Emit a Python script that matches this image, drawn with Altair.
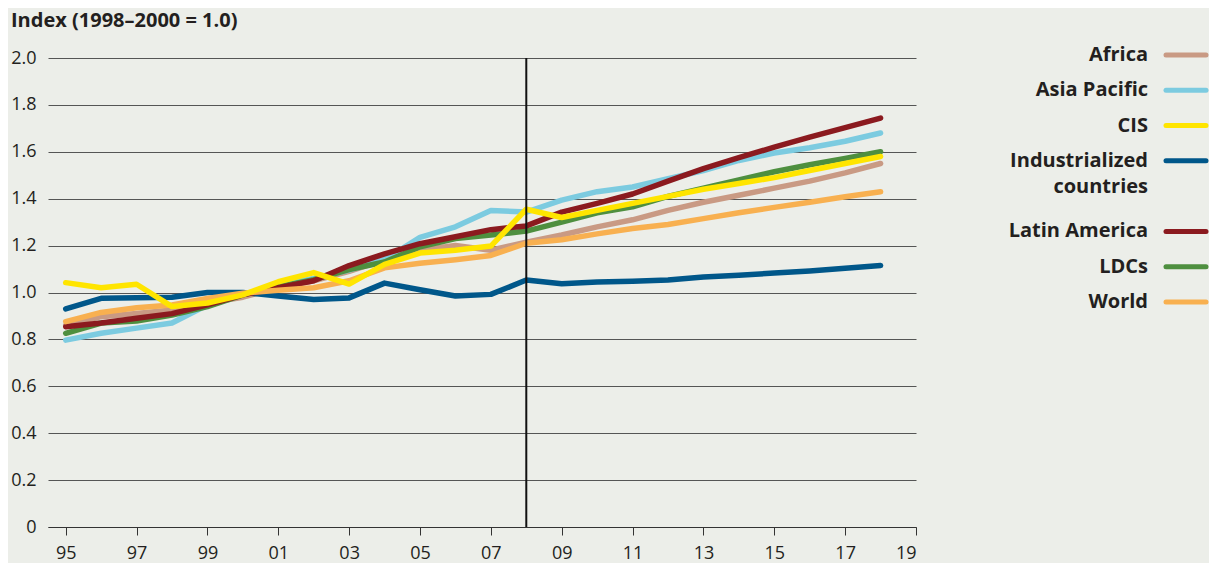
import altair as alt
import pandas as pd

years = list(range(1995, 2019))

africa = [0.86, 0.897, 0.91, 0.925, 0.955, 0.98, 1.02, 1.05, 1.09, 1.14, 1.18, 1.20,
          1.18, 1.215, 1.245, 1.28, 1.31, 1.35, 1.385, 1.415, 1.445, 1.475, 1.51, 1.55]
asia_pacific = [0.797, 0.826, 0.848, 0.87, 0.947, 0.99, 1.03, 1.06, 1.096, 1.14, 1.235, 1.28,
                1.35, 1.343, 1.394, 1.43, 1.45, 1.485, 1.52, 1.563, 1.595, 1.617, 1.645, 1.68]
cis = [1.042, 1.02, 1.035, 0.94, 0.955, 0.99, 1.046, 1.085, 1.036, 1.12, 1.168, 1.18,
       1.198, 1.355, 1.32, 1.35, 1.38, 1.41, 1.44, 1.465, 1.49, 1.52, 1.55, 1.58]
industrialized = [0.93, 0.975, 0.978, 0.98, 1.0, 1.0, 0.985, 0.97, 0.977, 1.04, 1.012, 0.985,
                  0.992, 1.053, 1.037, 1.045, 1.048, 1.053, 1.066, 1.074, 1.083, 1.092, 1.103, 1.115]
latin_america = [0.854, 0.87, 0.89, 0.91, 0.947, 0.99, 1.02, 1.05, 1.115, 1.165, 1.208, 1.238,
                 1.268, 1.284, 1.343, 1.38, 1.42, 1.475, 1.528, 1.575, 1.62, 1.663, 1.703, 1.744]
ldcs = [0.826, 0.87, 0.878, 0.904, 0.94, 0.99, 1.025, 1.055, 1.098, 1.13, 1.195, 1.23,
        1.245, 1.262, 1.30, 1.34, 1.365, 1.41, 1.445, 1.48, 1.515, 1.545, 1.572, 1.60]
world = [0.876, 0.915, 0.935, 0.947, 0.975, 0.997, 1.01, 1.02, 1.05, 1.105, 1.125, 1.14,
         1.158, 1.21, 1.225, 1.25, 1.273, 1.29, 1.315, 1.34, 1.363, 1.385, 1.408, 1.43]

series_names = ["Africa", "Asia Pacific", "CIS", "Industrialized countries",
                "Latin America", "LDCs", "World"]
legend_labels = ["Africa", "Asia Pacific", "CIS", "Industrialized\ncountries",
                 "Latin America", "LDCs", "World"]
series_colors = ["#c99a84", "#7ccbe0", "#ffe500", "#00578a", "#8b1a1f", "#4e8f3f", "#f8b050"]
series_values = [africa, asia_pacific, cis, industrialized, latin_america, ldcs, world]

draw_order = ["Africa", "Asia Pacific", "Industrialized countries", "LDCs",
              "Latin America", "World", "CIS"]

x_ticks = list(range(1995, 2020, 2))
y_ticks = [0, 0.2, 0.4, 0.6, 0.8, 1.0, 1.2, 1.4, 1.6, 1.8, 2.0]
forecast_start = [2008]

rows = []
for name, vals in zip(series_names, series_values):
    for yr, v in zip(years, vals):
        rows.append({"series": name, "year": yr, "value": v})
df = pd.DataFrame(rows)

legend_df = pd.DataFrame({"series": series_names, "label": legend_labels})
legend_domain = ["Africa", "Asia Pacific", "CIS", "Industrialized countries", "_gap",
                 "Latin America", "LDCs", "World"]

FONT = "Open Sans"
TEXT = "#231f20"
BG = "#eceee9"

color_scale = alt.Scale(domain=series_names, range=series_colors)

x_enc = alt.X(
    "year:Q",
    scale=alt.Scale(domain=[1994.5, 2019], nice=False, zero=False),
    axis=alt.Axis(values=x_ticks, labelExpr="slice(toString(datum.value), 2)",
                  grid=False, tickSize=8, tickColor="#333", domainColor="#333",
                  domainWidth=1.2, tickWidth=1, labelFontSize=18, labelPadding=9,
                  labelFont=FONT, labelColor=TEXT, title=None),
)
y_enc = alt.Y(
    "value:Q",
    scale=alt.Scale(domain=[0, 2], nice=False),
    axis=alt.Axis(values=y_ticks,
                  labelExpr="datum.value == 0 ? '0' : format(datum.value, '.1f')",
                  grid=True, gridColor="#555", gridWidth=1.2, ticks=False, domain=False,
                  labelPadding=12, labelFontSize=18, labelFont=FONT, labelColor=TEXT,
                  title=None),
)

line_layers = []
for name in draw_order:
    line_layers.append(
        alt.Chart(df).transform_filter(alt.datum.series == name)
        .mark_line(strokeWidth=5.5, strokeCap="round", strokeJoin="round")
        .encode(x=x_enc, y=y_enc,
                color=alt.Color("series:N", scale=color_scale, legend=None))
    )

vrule = alt.Chart(pd.DataFrame({"year": forecast_start})).mark_rule(
    color="#111", strokeWidth=2
).encode(x=alt.X("year:Q"))

main = alt.layer(*line_layers, vrule)

legend_y = alt.Y("series:N",
                 scale=alt.Scale(type="point", domain=legend_domain, range=[-3, 244], padding=0),
                 axis=None)

legend_text = alt.Chart(legend_df).mark_text(
    align="right", baseline="middle", fontSize=20, fontWeight="bold", font=FONT,
    color=TEXT, lineBreak="\n", lineHeight=26
).encode(x=alt.value(1100), y=legend_y, text="label:N")

legend_rule = alt.Chart(legend_df).mark_rule(strokeWidth=5, strokeCap="round").encode(
    x=alt.value(1118), x2=alt.value(1158), y=legend_y,
    color=alt.Color("series:N", scale=color_scale, legend=None)
)

legend = alt.layer(legend_text, legend_rule)

chart = alt.layer(main, legend).resolve_scale(y="independent").properties(
    width=868, height=469,
    title=alt.TitleParams("Index (1998–2000 = 1.0)", anchor="start", frame="group",
                          dx=-37, dy=2, fontSize=20, fontWeight="bold", font=FONT, color=TEXT,
                          offset=0, baseline="alphabetic"),
    autosize=alt.AutoSizeParams(type="none"),
    padding={"left": 40, "top": 50, "right": 293, "bottom": 36},
    background=BG,
).configure_view(stroke=None)

chart.save("out.html", embed_options={"renderer": "svg", "actions": False})
